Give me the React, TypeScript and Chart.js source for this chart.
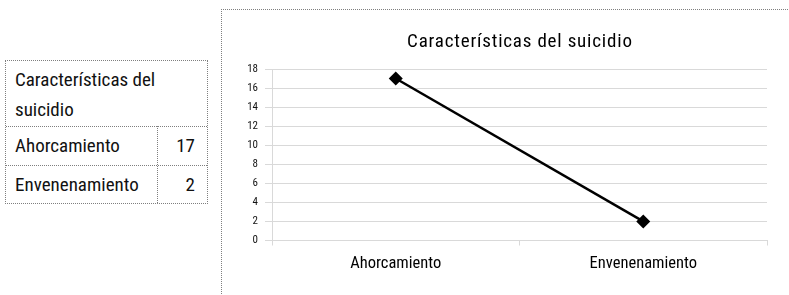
import React, { useEffect, useRef } from "react";
import { Chart, registerables } from "chart.js";

Chart.register(...registerables);

const chartTitle = "Características del suicidio";
const categories = ["Ahorcamiento", "Envenenamiento"];
const values = [17, 2];
const yTicks = [0, 2, 4, 6, 8, 10, 12, 14, 16, 18];

const FONT = "'Roboto Condensed', 'DejaVu Sans Condensed', sans-serif";
const DOT = "1px dotted #7f7f7f";

const titlePlugin = {
  id: "spacedTitle",
  afterDraw(chart: any) {
    const { ctx, chartArea } = chart;
    ctx.save();
    ctx.font = `19px ${FONT}`;
    try {
      (ctx as any).letterSpacing = "0.8px";
    } catch (e) {}
    ctx.fillStyle = "#000";
    ctx.textAlign = "center";
    ctx.textBaseline = "middle";
    ctx.fillText(chartTitle, (chartArea.left + chartArea.right) / 2 + 0.4, 32);
    ctx.restore();
  },
};

function LineChart() {
  const ref = useRef<HTMLCanvasElement | null>(null);
  useEffect(() => {
    if (!ref.current) return;
    const chart = new Chart(ref.current, {
      type: "line",
      data: {
        labels: categories,
        datasets: [
          {
            label: chartTitle,
            data: values,
            borderColor: "#000",
            backgroundColor: "#000",
            borderWidth: 2.5,
            pointStyle: "rectRot",
            pointRadius: 7,
            pointBackgroundColor: "#000",
            pointBorderColor: "#000",
            pointBorderWidth: 0,
            tension: 0,
          },
        ],
      },
      options: {
        responsive: false,
        animation: false,
        devicePixelRatio: 1,
        layout: { padding: { top: 59, right: 22, bottom: 20.5, left: 0 } },
        plugins: {
          legend: { display: false },
          title: { display: false },
          tooltip: { enabled: false },
        },
        scales: {
          x: {
            type: "category",
            offset: true,
            afterFit(scale: any) {
              scale.height = 34;
            },
            grid: {
              offset: true,
              drawOnChartArea: false,
              drawTicks: true,
              tickLength: 5,
              color: "#d9d9d9",
              lineWidth: 1,
            },
            border: { display: true, color: "#d9d9d9", width: 1 },
            ticks: {
              font: { family: FONT, size: 16.5 },
              color: "#000",
              padding: 8,
              maxRotation: 0,
              autoSkip: false,
            },
          },
          y: {
            min: 0,
            max: 18,
            afterFit(scale: any) {
              scale.width = 50;
            },
            afterBuildTicks(scale: any) {
              scale.ticks = yTicks.map((v) => ({ value: v }));
            },
            grid: {
              color: "#d9d9d9",
              lineWidth: 1,
              drawTicks: true,
              tickLength: 7,
            },
            border: { display: true, color: "#d9d9d9", width: 1 },
            ticks: {
              font: { family: FONT, size: 11 },
              color: "#111",
              padding: 7,
              stepSize: 2,
            },
          },
        },
      },
      plugins: [titlePlugin],
    });
    return () => chart.destroy();
  }, []);
  return <canvas ref={ref} width={567} height={285} style={{ width: 567, height: 285, display: "block" }} />;
}

export default function App() {
  const cellText: React.CSSProperties = {
    position: "absolute",
    fontFamily: FONT,
    fontSize: 19,
    color: "#111",
    whiteSpace: "nowrap",
  };
  return (
    <div
      style={{
        position: "absolute",
        left: 0,
        top: 0,
        width: 789,
        height: 295,
        overflow: "hidden",
        background: "#fff",
      }}
    >
      {/* data table */}
      <div
        style={{
          position: "absolute",
          left: 5,
          top: 60,
          width: 201,
          height: 142,
          borderTop: DOT,
          borderLeft: DOT,
          borderRight: DOT,
          borderBottom: DOT,
        }}
      >
        <div style={{ ...cellText, left: 9, top: 4, lineHeight: "30px" }}>
          Características del
          <br />
          suicidio
        </div>
        <div style={{ position: "absolute", left: 0, top: 65, width: 201, borderTop: DOT }} />
        <div style={{ position: "absolute", left: 0, top: 104, width: 201, borderTop: DOT }} />
        <div style={{ position: "absolute", left: 151, top: 65, height: 77, borderLeft: DOT }} />
        {categories.map((c, i) => (
          <React.Fragment key={c}>
            <div style={{ ...cellText, left: 9, top: 66 + i * 39, lineHeight: "38px" }}>{c}</div>
            <div
              style={{
                ...cellText,
                left: 152,
                width: 37,
                textAlign: "right",
                top: 66 + i * 39,
                lineHeight: "38px",
              }}
            >
              {values[i]}
            </div>
          </React.Fragment>
        ))}
      </div>
      {/* chart box */}
      <div
        style={{
          position: "absolute",
          left: 221,
          top: 9,
          width: 620,
          height: 320,
          borderTop: DOT,
          borderLeft: DOT,
        }}
      >
        <LineChart />
      </div>
    </div>
  );
}
